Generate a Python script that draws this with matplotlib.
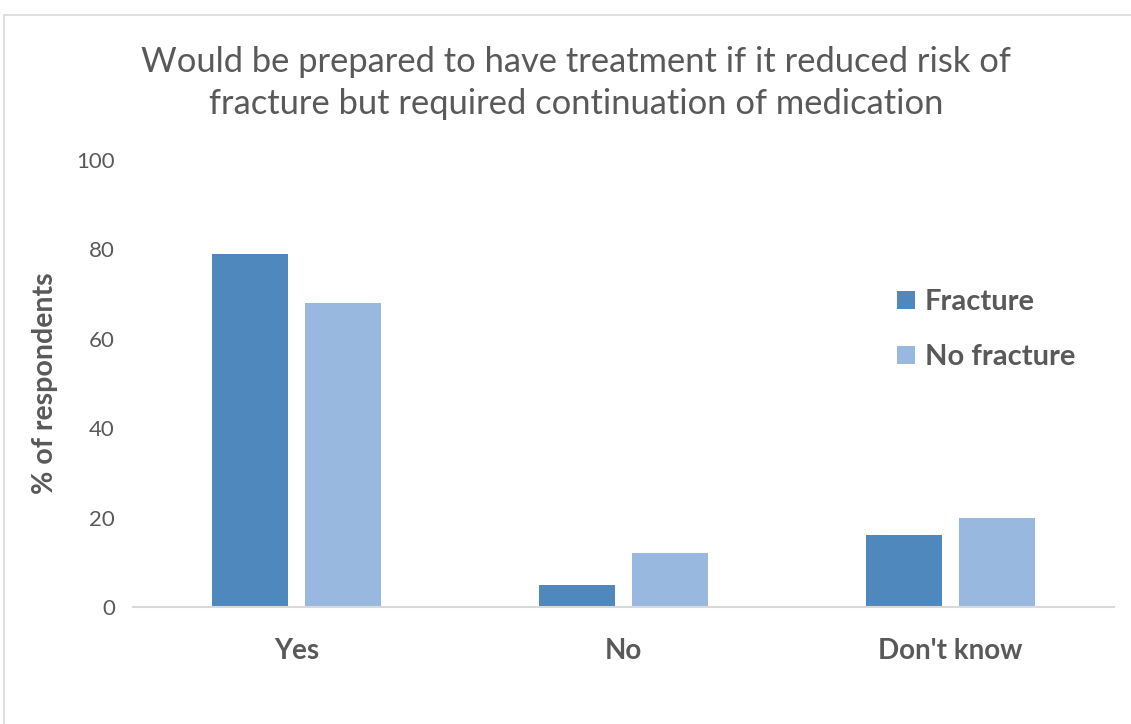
import matplotlib
matplotlib.use("Agg")
import matplotlib.pyplot as plt
import numpy as np
from matplotlib.patches import Rectangle

categories = ["Yes", "No", "Don't know"]
series_names = ["Fracture", "No fracture"]
fracture = [79, 5, 16]
no_fracture = [68, 12, 20]
yticks = [0, 20, 40, 60, 80, 100]

plt.rcParams['font.family'] = ['Lato', 'DejaVu Sans']

dark_blue = "#4F88BC"
light_blue = "#98B8DF"
text_gray = "#595959"

fig = plt.figure(figsize=(11.31, 7.24), dpi=100)
fig.patches.append(Rectangle((4 / 1131, -0.05), 1.2, (724 - 15) / 724 + 0.05,
                             transform=fig.transFigure, fill=False,
                             edgecolor="#D9D9D9", linewidth=1.2))

ax = fig.add_axes([133 / 1131, 1 - 607 / 724, (1114 - 133) / 1131, (607 - 160) / 724])

x = np.arange(len(categories))
width = 0.23
offset = 0.142
ax.bar(x - offset, fracture, width, color=dark_blue, label=series_names[0])
ax.bar(x + offset, no_fracture, width, color=light_blue, label=series_names[1])

ax.set_xlim(-0.5, 2.5)
ax.set_ylim(0, 100)
ax.set_yticks(yticks)
ax.set_yticklabels([str(t) for t in yticks], fontsize=16, color=text_gray)
ax.set_xticks(x)
ax.set_xticklabels(categories, fontsize=20, fontweight="bold", color=text_gray)
ax.tick_params(axis="both", length=0)
ax.tick_params(axis="y", pad=13)
ax.tick_params(axis="x", pad=22.5)

for s in ["top", "right", "left"]:
    ax.spines[s].set_visible(False)
ax.spines["bottom"].set_color("#D9D9D9")
ax.spines["bottom"].set_linewidth(1.5)

ax.set_ylabel("% of respondents", fontsize=20.5, fontweight="bold", color=text_gray, va="center")
ax.yaxis.set_label_coords((45 - 133) / (1114 - 133), 0.5)

leg = ax.legend(loc="upper left", bbox_to_anchor=((871 - 133) / (1114 - 133), (607 - 263) / (607 - 160)),
                frameon=False, fontsize=21, handlelength=0.6, handleheight=0.6,
                handletextpad=0.35, labelspacing=1.0)
for t in leg.get_texts():
    t.set_color(text_gray)
    t.set_fontweight("bold")

fig.text(576 / 1131, 1 - 83 / 724,
         "Would be prepared to have treatment if it reduced risk of\nfracture but required continuation of medication",
         ha="center", va="center", fontsize=24.8, color=text_gray, linespacing=1.38)

fig.savefig("out.png", dpi=100)
